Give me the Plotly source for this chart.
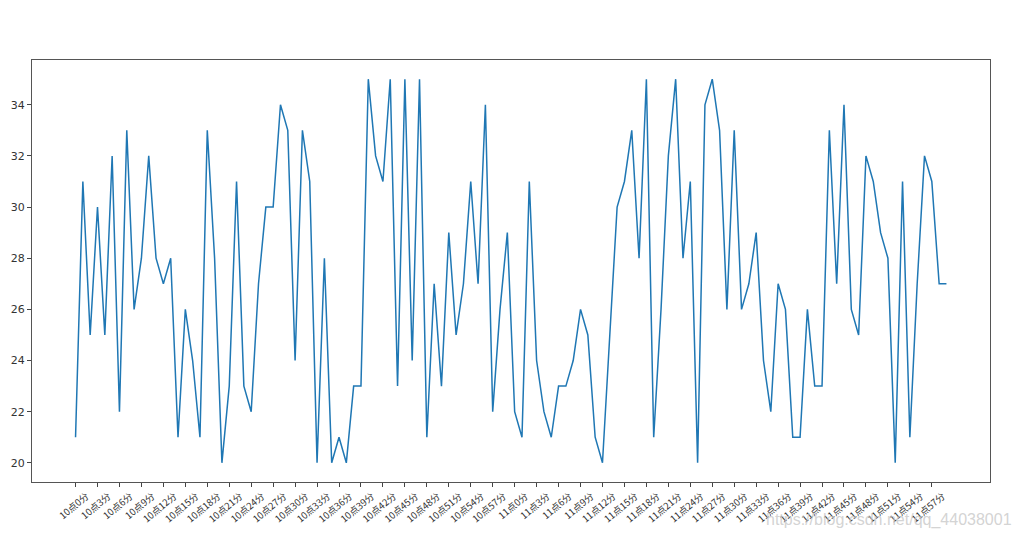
import plotly.graph_objects as go

# Time labels 10点0分 ... 11点59分
times = [f"10点{m}分" for m in range(60)] + [f"11点{m}分" for m in range(60)]

temps = [
    21, 31, 25, 30, 25, 32, 22, 33, 26, 28,
    32, 28, 27, 28, 21, 26, 24, 21, 33, 28,
    20, 23, 31, 23, 22, 27, 30, 30, 34, 33,
    24, 33, 31, 20, 28, 20, 21, 20, 23, 23,
    35, 32, 31, 35, 23, 35, 24, 35, 21, 27,
    23, 29, 25, 27, 31, 27, 34, 22, 26, 29,
    22, 21, 31, 24, 22, 21, 23, 23, 24, 26,
    25, 21, 20, 25, 30, 31, 33, 28, 35, 21,
    26, 32, 35, 28, 31, 20, 34, 35, 33, 26,
    33, 26, 27, 29, 24, 22, 27, 26, 21, 21,
    26, 23, 23, 33, 27, 34, 26, 25, 32, 31,
    29, 28, 20, 31, 21, 27, 32, 31, 27, 27,
]

tick_labels = times[::3]
y_ticks = [20, 22, 24, 26, 28, 30, 32, 34]

n = len(times)
pad = 0.05 * (n - 1)

fig = go.Figure()
fig.add_trace(go.Scatter(
    x=times, y=temps, mode="lines",
    line=dict(color="#1f77b4", width=1.5),
    showlegend=False,
))

fig.update_layout(
    width=1018, height=538,
    margin=dict(l=32, r=28, t=60, b=56),
    paper_bgcolor="white", plot_bgcolor="white",
    font=dict(family="DejaVu Sans", color="#333333"),
    xaxis=dict(
        type="category",
        range=[-pad, n - 1 + pad],
        tickmode="array", tickvals=tick_labels, ticktext=tick_labels,
        tickangle=-40,
        ticklabelshift=11,
        tickfont=dict(family="Noto Sans CJK SC", size=9.5, color="#333333"),
        ticks="outside", ticklen=4, tickcolor="#444444",
        showgrid=False, zeroline=False,
        showline=True, linecolor="#555555", linewidth=1, mirror=True,
    ),
    yaxis=dict(
        range=[19.25, 35.75],
        tickmode="array", tickvals=y_ticks,
        tickfont=dict(family="DejaVu Sans", size=11, color="#333333"),
        ticks="outside", ticklen=4, tickcolor="#444444",
        showgrid=False, zeroline=False,
        showline=True, linecolor="#555555", linewidth=1, mirror=True,
    ),
    annotations=[dict(
        text="https://blog.csdn.net/qq_44038001",
        xref="paper", yref="paper", x=1.025, y=-0.09,
        xanchor="right", yanchor="middle", showarrow=False,
        font=dict(family="Liberation Sans", size=16, color="rgba(200,200,200,0.8)"),
    )],
)

fig.write_html("out.html")
